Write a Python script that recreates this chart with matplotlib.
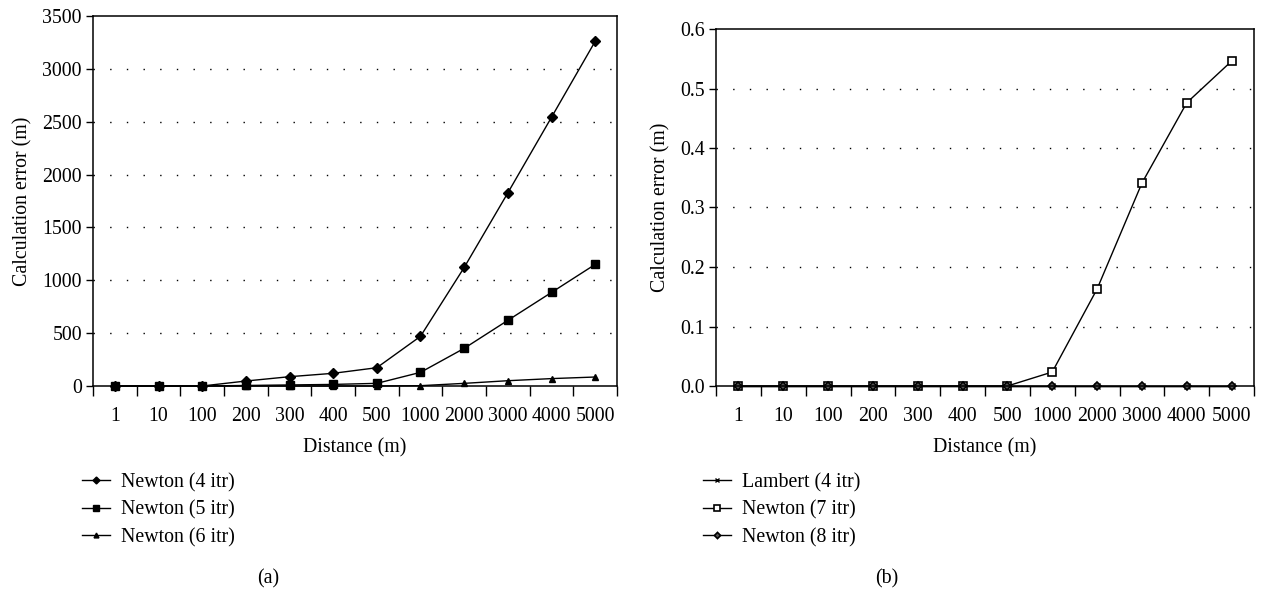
import matplotlib
matplotlib.use("Agg")
import matplotlib.pyplot as plt
import numpy as np

plt.rcParams['font.family'] = ['Liberation Serif', 'DejaVu Serif']
plt.rcParams['font.size'] = 14.3

# categories on the x axis (distance, m)
distances = ['1', '10', '100', '200', '300', '400', '500', '1000', '2000', '3000', '4000', '5000']

# panel (a) calculation error (m)
newton4 = [0, 0, 0, 47, 88, 120, 173, 470, 1121, 1827, 2542, 3260]
newton5 = [0, 0, 0, 5, 10, 15, 25, 129, 356, 621, 885, 1150]
newton6 = [0, 0, 0, 0, 0, 0, 0, 3, 25, 50, 70, 85]

# panel (b) calculation error (m)
lambert4 = [0, 0, 0, 0, 0, 0, 0, 0, 0, 0, 0, 0]
newton7 = [0, 0, 0, 0, 0, 0, 0, 0.0235, 0.163, 0.341, 0.476, 0.546]
newton8 = [0, 0, 0, 0, 0, 0, 0, 0, 0, 0, 0, 0]

W, H = 1262, 593
fig = plt.figure(figsize=(W / 100, H / 100), dpi=100)


def px_axes(left, top, right, bottom):
    return fig.add_axes([left / W, 1 - bottom / H, (right - left) / W, (bottom - top) / H])


def style_axes(ax, ymax, ystep, fmt):
    x = np.arange(len(distances))
    ax.set_xlim(-0.5, len(distances) - 0.5)
    ax.set_ylim(0, ymax)
    ax.set_xticks(x)
    ax.set_xticklabels(distances)
    ax.set_xticks(np.arange(-0.5, len(distances)), minor=True)
    ax.tick_params(axis='x', which='major', length=0, pad=15)
    ax.tick_params(axis='x', which='minor', length=7, width=1, direction='out')
    yt = np.arange(0, ymax + ystep / 2, ystep)
    ax.set_yticks(yt)
    ax.set_yticklabels([fmt.format(v) for v in yt])
    ax.tick_params(axis='y', length=5, width=1, direction='out', pad=3)
    for v in yt[1:-1]:
        ax.axhline(v, color='black', lw=1, linestyle=(0, (1, 11)), zorder=0)
    for s in ax.spines.values():
        s.set_linewidth(1.1)
    ax.set_xlabel('Distance (m)', labelpad=9)
    ax.set_ylabel('Calculation error (m)', labelpad=7)


legend_kw = dict(frameon=False, borderpad=0, borderaxespad=0, handlelength=1.4,
                 handletextpad=0.55, labelspacing=0.42, markerscale=0.7)

# panel (a)
ax1 = px_axes(93, 16, 617, 386)
x = np.arange(len(distances))
ax1.plot(x, newton4, color='black', lw=1, marker='D', ms=5, label='Newton (4 itr)', clip_on=False)
ax1.plot(x, newton5, color='black', lw=1, marker='s', ms=6, label='Newton (5 itr)', clip_on=False)
ax1.plot(x, newton6, color='black', lw=1, marker='^', ms=5, label='Newton (6 itr)', clip_on=False)
style_axes(ax1, 3500, 500, '{:.0f}')
ax1.legend(loc='upper left', bbox_to_anchor=(82 / W, 1 - 473 / H), bbox_transform=fig.transFigure,
           **legend_kw)
fig.text(268 / W, 1 - 579 / H, '(a)', ha='center', va='center')

# panel (b)
ax2 = px_axes(716, 29, 1254, 386)
ax2.plot(x, lambert4, color='black', lw=1, marker='x', ms=4, mew=1, label='Lambert (4 itr)', clip_on=False)
ax2.plot(x, newton7, color='black', lw=1, marker='s', ms=6, mfc='white', mew=1.2,
         label='Newton (7 itr)', clip_on=False)
ax2.plot(x, newton8, color='black', lw=1, marker='D', ms=4.5, mfc='#555555', mew=1.2,
         label='Newton (8 itr)', clip_on=False)
style_axes(ax2, 0.6, 0.1, '{:.1f}')
ax2.legend(loc='upper left', bbox_to_anchor=(703 / W, 1 - 473 / H), bbox_transform=fig.transFigure,
           **legend_kw)
fig.text(887 / W, 1 - 579 / H, '(b)', ha='center', va='center')

fig.savefig('out.png', dpi=100)
